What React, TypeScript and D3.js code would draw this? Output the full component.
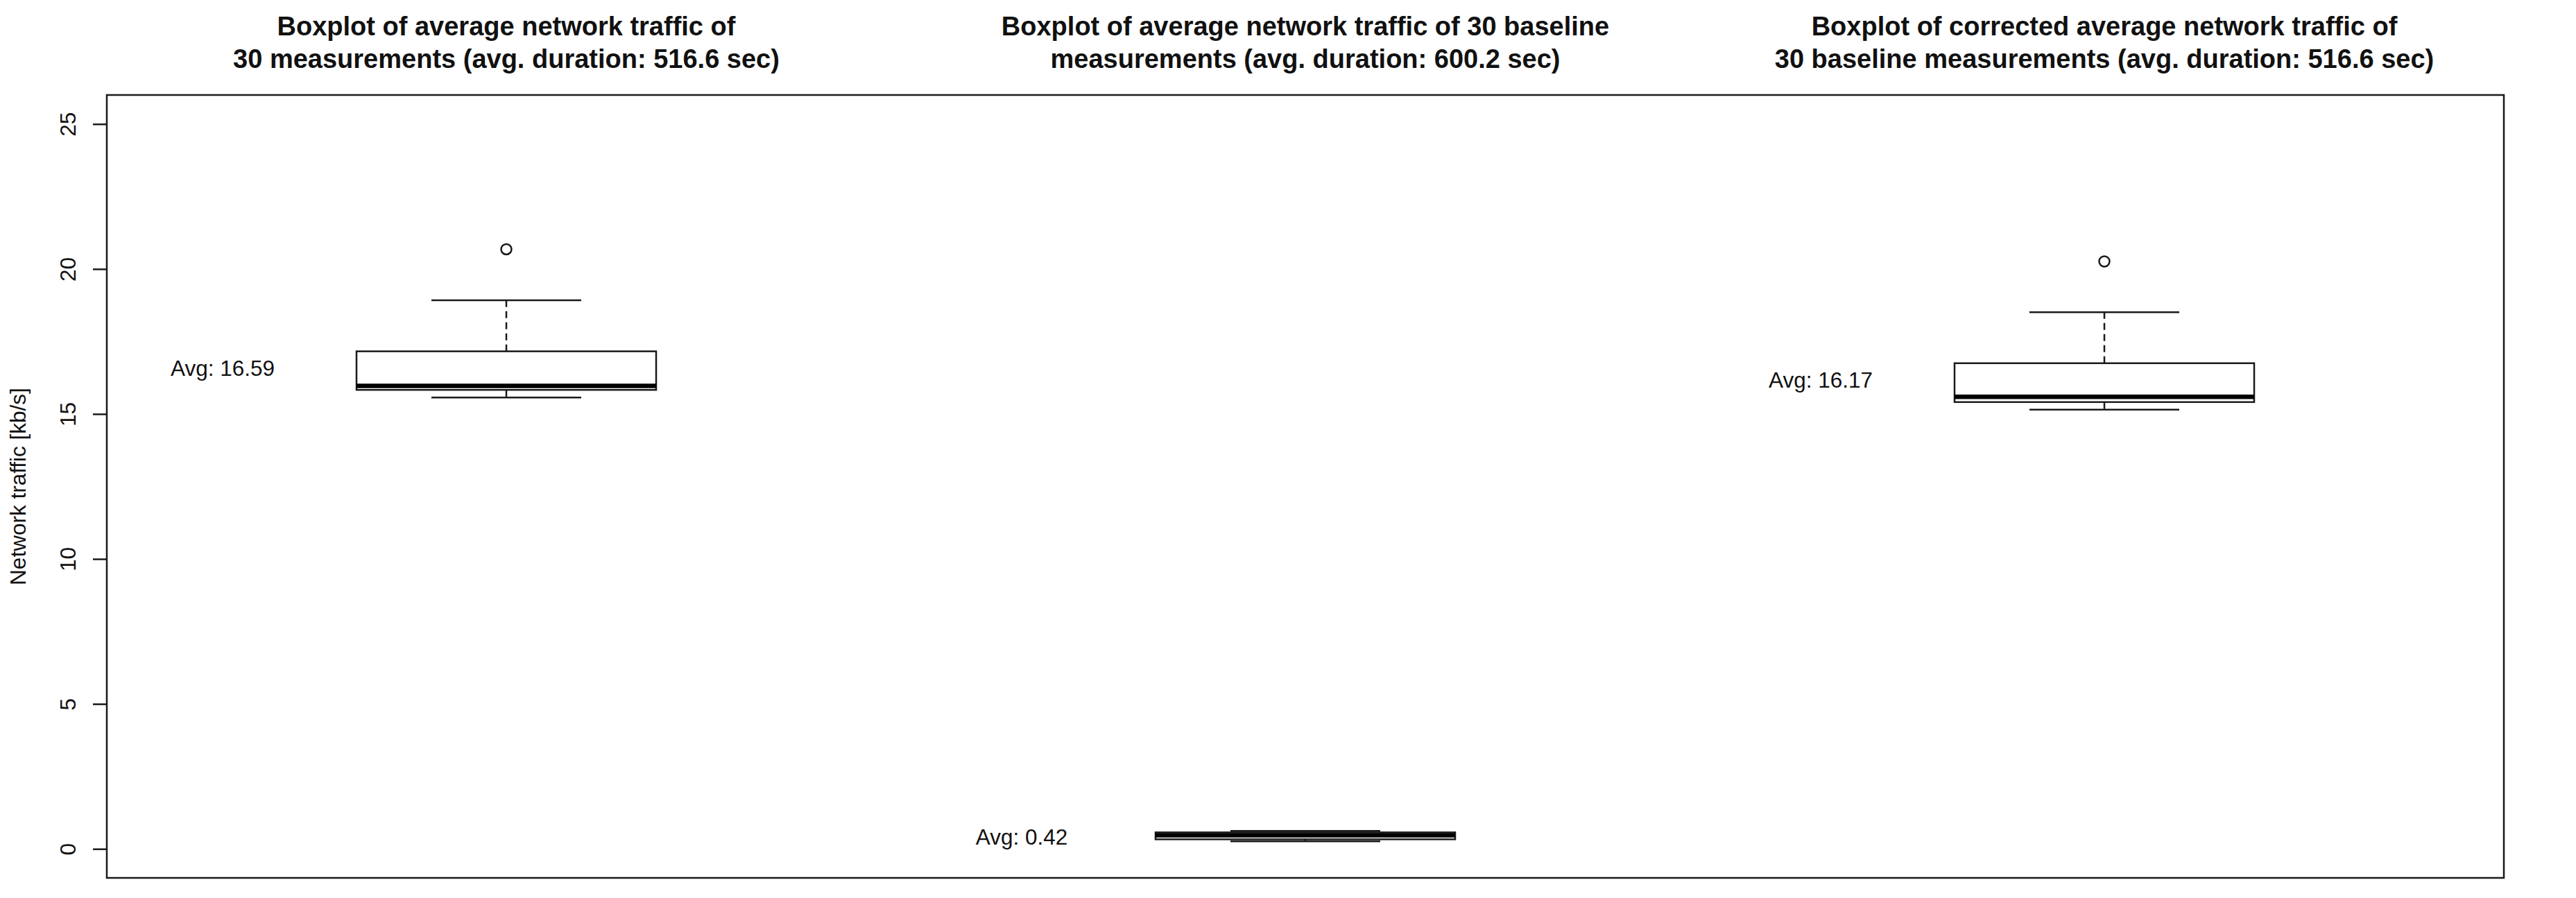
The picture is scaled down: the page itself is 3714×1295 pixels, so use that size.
import React, { useEffect, useRef } from 'react'
import * as d3 from 'd3'

// group positions on the x axis (R boxplot puts them at 1, 2, 3)
const positions = [1, 2, 3]

const titles = [
  ['Boxplot of average network traffic of', '30 measurements (avg. duration: 516.6 sec)'],
  ['Boxplot of average network traffic of 30 baseline', 'measurements (avg. duration: 600.2 sec)'],
  ['Boxplot of corrected average network traffic of', '30 baseline measurements (avg. duration: 516.6 sec)'],
]

// five number summaries
const lowerWhisker = [15.57, 0.26, 15.15]
const q1 = [15.83, 0.33, 15.41]
const median = [15.97, 0.47, 15.59]
const q3 = [17.16, 0.57, 16.75]
const upperWhisker = [18.92, 0.62, 18.51]
const outliers = [[20.68], [], [20.26]]
const averages = [16.59, 0.42, 16.17]

const yTicks = [0, 5, 10, 15, 20, 25]
const yLabel = 'Network traffic [kb/s]'

const FONT = '"Liberation Sans", Arial, Helvetica, sans-serif'

const BoxplotChart = ({ width = 3714, height = 1295 }) => {
  const ref = useRef<SVGSVGElement>(null)

  useEffect(() => {
    const svg = d3.select(ref.current)
    svg.selectAll('*').remove()

    const left = 154
    const right = 3610
    const top = 137
    const bottom = 1266

    const x = d3.scaleLinear().domain([0.5, 3.5]).range([left, right])
    const y = d3.scaleLinear().domain([-1, 26]).range([bottom, top])

    const boxHalf = 0.1875
    const capHalf = boxHalf / 2
    const stroke = '#1a1a1a'
    const lw = 2.5

    svg.append('rect').attr('width', width).attr('height', height).attr('fill', 'white')

    // y axis with rotated labels, R style
    const axis = svg
      .append('g')
      .attr('transform', `translate(${left},0)`)
      .call(d3.axisLeft(y).tickValues(yTicks).tickSize(20).tickFormat(d3.format('d')))
    axis.select('.domain').remove()
    axis.selectAll('line').attr('stroke', stroke).attr('stroke-width', lw)
    axis
      .selectAll('text')
      .attr('x', 0)
      .attr('y', -45)
      .attr('dy', 0)
      .attr('transform', 'rotate(-90)')
      .attr('text-anchor', 'middle')
      .attr('fill', '#111')
      .attr('font-size', 31.5)
      .attr('font-family', FONT)

    svg
      .append('text')
      .attr('transform', `translate(37,${(top + bottom) / 2}) rotate(-90)`)
      .attr('text-anchor', 'middle')
      .attr('font-size', 31.5)
      .attr('font-family', FONT)
      .attr('fill', '#111')
      .text(yLabel)

    // plot frame
    svg
      .append('rect')
      .attr('x', left)
      .attr('y', top)
      .attr('width', right - left)
      .attr('height', bottom - top)
      .attr('fill', 'none')
      .attr('stroke', stroke)
      .attr('stroke-width', lw)

    // titles above each group
    const t = svg
      .append('g')
      .attr('font-family', FONT)
      .attr('font-weight', 'bold')
      .attr('font-size', 38)
      .attr('text-anchor', 'middle')
      .attr('fill', '#111')
    positions.forEach((p, i) => {
      t.append('text').attr('x', x(p)).attr('y', 51).text(titles[i][0])
      t.append('text').attr('x', x(p)).attr('y', 98).text(titles[i][1])
    })

    const g = svg.append('g').attr('stroke', stroke).attr('stroke-width', lw).attr('fill', 'none')

    positions.forEach((p, i) => {
      // whiskers
      g.append('line')
        .attr('x1', x(p)).attr('x2', x(p))
        .attr('y1', y(q3[i])).attr('y2', y(upperWhisker[i]))
        .attr('stroke-dasharray', '10,6')
      g.append('line')
        .attr('x1', x(p)).attr('x2', x(p))
        .attr('y1', y(q1[i])).attr('y2', y(lowerWhisker[i]))
        .attr('stroke-dasharray', '10,6')
      // staples
      g.append('line')
        .attr('x1', x(p - capHalf)).attr('x2', x(p + capHalf))
        .attr('y1', y(upperWhisker[i])).attr('y2', y(upperWhisker[i]))
      g.append('line')
        .attr('x1', x(p - capHalf)).attr('x2', x(p + capHalf))
        .attr('y1', y(lowerWhisker[i])).attr('y2', y(lowerWhisker[i]))
      // box
      g.append('rect')
        .attr('x', x(p - boxHalf))
        .attr('y', y(q3[i]))
        .attr('width', x(p + boxHalf) - x(p - boxHalf))
        .attr('height', y(q1[i]) - y(q3[i]))
        .attr('fill', 'white')
      // median
      g.append('line')
        .attr('x1', x(p - boxHalf)).attr('x2', x(p + boxHalf))
        .attr('y1', y(median[i])).attr('y2', y(median[i]))
        .attr('stroke', 'black')
        .attr('stroke-width', 6.5)
      // outliers
      outliers[i].forEach(o => {
        g.append('circle').attr('cx', x(p)).attr('cy', y(o)).attr('r', 7.5)
      })
      // average label
      svg
        .append('text')
        .attr('x', x(p - 0.355))
        .attr('y', y(averages[i]))
        .attr('dy', '0.36em')
        .attr('text-anchor', 'middle')
        .attr('font-size', 31.5)
        .attr('font-family', FONT)
        .attr('fill', '#111')
        .text(`Avg: ${averages[i].toFixed(2)}`)
    })
  }, [width, height])

  return <svg ref={ref} width={width} height={height} style={{ display: 'block' }} />
}

export default function App() {
  return (
    <div style={{ position: 'absolute', left: 0, top: 0 }}>
      <BoxplotChart />
    </div>
  )
}
